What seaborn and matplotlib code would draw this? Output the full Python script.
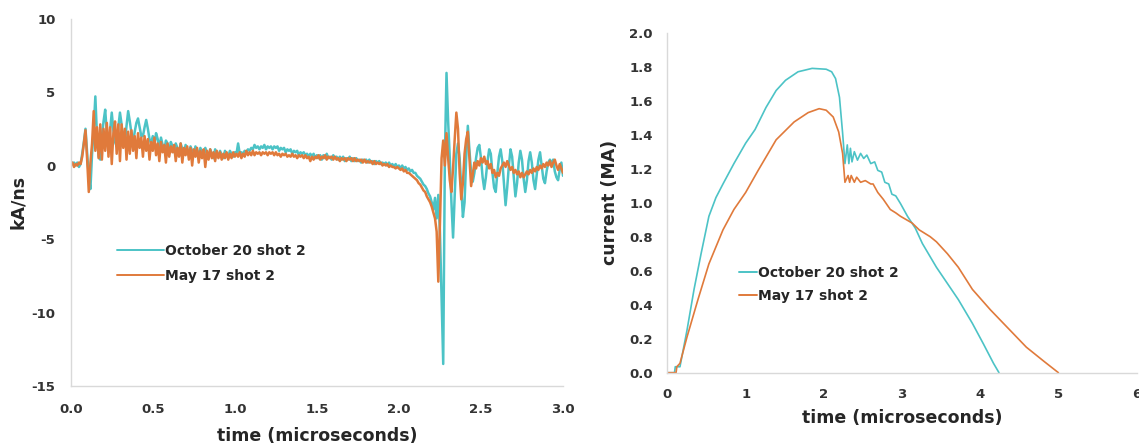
import numpy as np
import pandas as pd
import seaborn as sns
import matplotlib.pyplot as plt

# colours of the two shots
teal = "#4cc3c6"
orange = "#e07a3b"
labels = ["October 20 shot 2", "May 17 shot 2"]

# dI/dt traces (kA/ns), sampled every 0.01 us from 0 to 3.0 us
dt = 0.01
oct_didt = [
    0.3, 0.1, 0.2, 0.0, 0.2, -0.1, 0.1, 0.8, 1.6, 2.5,
    0.9, -0.8, -1.6, 0.8, 2.5, 4.7, 2.0, 0.6, 0.4, 2.0,
    3.0, 3.8, 2.2, 1.1, 2.4, 3.6, 2.4, 1.6, 1.3, 2.6,
    3.6, 2.8, 1.6, 1.5, 2.7, 3.7, 3.0, 2.2, 1.6, 2.3,
    2.9, 3.2, 2.6, 2.0, 2.0, 2.6, 3.1, 2.5, 1.8, 1.5,
    2.0, 1.4, 2.2, 1.8, 1.2, 1.9, 1.4, 1.0, 1.7, 1.5,
    0.9, 1.6, 1.3, 0.9, 1.5, 1.2, 0.8, 1.5, 1.1, 0.8,
    1.4, 1.1, 0.7, 1.3, 1.0, 0.7, 1.3, 1.0, 0.7, 1.2,
    0.9, 0.6, 1.2, 0.9, 0.6, 1.1, 0.8, 0.5, 1.1, 0.8,
    0.6, 1.0, 0.7, 0.5, 1.0, 0.8, 0.6, 1.0, 0.8, 0.6,
    0.9, 0.8, 1.5, 0.8, 0.9, 0.8, 1.0, 0.9, 1.1, 1.0,
    1.2, 1.1, 1.4, 1.2, 1.3, 1.1, 1.3, 1.2, 1.4, 1.1,
    1.3, 1.2, 1.3, 1.1, 1.3, 1.2, 1.3, 1.0, 1.2, 1.1,
    1.2, 0.9, 1.1, 1.0, 1.1, 0.8, 1.0, 0.9, 1.0, 0.7,
    0.9, 0.8, 0.9, 0.7, 0.8, 0.6, 0.8, 0.6, 0.8, 0.5,
    0.7, 0.5, 0.7, 0.4, 0.7, 0.5, 0.8, 0.5, 0.6, 0.4,
    0.7, 0.5, 0.6, 0.4, 0.6, 0.4, 0.6, 0.3, 0.5, 0.4,
    0.6, 0.3, 0.5, 0.3, 0.5, 0.3, 0.4, 0.2, 0.4, 0.3,
    0.4, 0.2, 0.4, 0.2, 0.3, 0.1, 0.3, 0.2, 0.3, 0.1,
    0.2, 0.1, 0.2, 0.0, 0.2, 0.0, 0.1, -0.1, 0.1, -0.1,
    0.0, -0.2, 0.0, -0.2, -0.1, -0.3, -0.2, -0.4, -0.3, -0.5,
    -0.5, -0.7, -0.8, -0.9, -1.1, -1.3, -1.4, -1.6, -1.9, -2.1,
    -2.5, -3.0, -2.2, -3.6, -2.0, -4.5, -9.0, -13.5, 0.5, 6.3,
    3.0, 0.5, -2.5, -4.9, -2.0, 0.8, 1.5, 0.5, -1.5, -3.5,
    -2.5, 0.5, 2.7, 1.0, -0.5, -1.1, -0.5, 0.5, 1.2, 1.4,
    0.5, -0.8, -1.6, -0.8, 0.3, 1.1, 0.8, -0.5, -1.5, -1.8,
    -0.5, 0.6, 1.1, 0.3, -1.2, -2.7, -1.5, 0.0, 1.1, 0.6,
    -0.8, -2.1, -1.2, 0.2, 1.0, 0.4, -0.9, -1.8, -1.0, 0.3,
    0.9, 0.2, -1.0, -1.6, -0.6, 0.4, 0.9, 0.0, -0.9, -1.2,
    -0.4, 0.2, 0.4, 0.1, 0.4, -0.4, -0.8, -1.0, -0.3, 0.2,
    -0.7,
]
may_didt = [
    0.1, 0.2, -0.1, 0.1, 0.0, 0.2, 0.1, 0.6, 1.5, 2.4,
    0.4, -1.8, 0.2, 1.5, 3.7, 1.0, 2.6, 0.5, 2.8, 0.4,
    2.5, 1.0, 2.9, 0.6, 2.6, 0.1, 2.2, 3.0, 0.8, 2.8,
    0.3, 2.8, 1.2, 2.5, 0.4, 2.3, 0.8, 2.4, 1.0, 2.0,
    0.5, 2.2, 1.2, 1.9, 0.6, 2.0, 1.0, 1.8, 0.4, 1.6,
    1.0, 1.9, 0.7, 1.5, 0.3, 1.6, 0.9, 1.4, 0.2, 1.5,
    0.6, 1.3, 0.9, 1.4, 0.3, 1.2, 0.6, 1.5, 0.2, 1.2,
    0.7, 1.3, 0.4, 1.2, 0.0, 1.1, 0.6, 1.2, 0.2, 1.0,
    0.5, 1.1, -0.1, 1.0, 0.4, 1.1, 0.5, 0.9, 0.3, 1.0,
    0.5, 0.9, 0.4, 0.8, 0.5, 0.9, 0.4, 0.8, 0.5, 0.9,
    0.6, 0.8, 0.6, 0.9, 0.5, 0.8, 0.6, 1.0, 0.7, 0.9,
    0.7, 1.0, 0.7, 0.9, 0.8, 0.9, 0.7, 0.9, 0.8, 0.9,
    0.7, 0.9, 0.8, 0.9, 0.7, 0.9, 0.7, 0.8, 0.6, 0.8,
    0.7, 0.8, 0.6, 0.7, 0.6, 0.8, 0.6, 0.7, 0.5, 0.7,
    0.6, 0.7, 0.5, 0.7, 0.5, 0.6, 0.3, 0.6, 0.4, 0.6,
    0.5, 0.7, 0.4, 0.6, 0.5, 0.7, 0.4, 0.6, 0.5, 0.6,
    0.4, 0.6, 0.4, 0.5, 0.3, 0.5, 0.4, 0.5, 0.3, 0.5,
    0.4, 0.5, 0.3, 0.5, 0.3, 0.4, 0.3, 0.4, 0.2, 0.4,
    0.2, 0.3, 0.2, 0.3, 0.1, 0.3, 0.1, 0.2, 0.1, 0.2,
    0.0, 0.1, 0.0, 0.1, -0.1, 0.0, -0.1, -0.1, -0.2, -0.1,
    -0.2, -0.3, -0.2, -0.4, -0.3, -0.5, -0.5, -0.6, -0.7, -0.8,
    -0.9, -1.0, -1.2, -1.3, -1.5, -1.7, -1.8, -2.1, -2.3, -2.5,
    -2.8, -3.2, -3.6, -4.5, -7.9, -4.0, 0.5, 1.7, 0.0, 2.2,
    0.5, -1.0, -1.8, -0.2, 1.8, 3.6, 2.5, -0.5, -2.3, -1.2,
    0.8, 1.8, 2.3, 0.5, -1.4, -0.6, 0.2, -0.2, 0.3, 0.0,
    0.5, 0.2, 0.6, 0.1, 0.3, -0.2, 0.1, -0.5, -0.3, -0.8,
    -0.5, -0.7, -0.2, 0.0, 0.2, -0.1, 0.3, 0.0, -0.3, -0.1,
    -0.5, -0.3, -0.6, -0.4, -0.8, -0.5, -0.8, -0.6, -0.4, -0.6,
    -0.3, -0.5, -0.2, -0.4, -0.1, -0.3, 0.0, -0.2, 0.1, -0.1,
    0.2, 0.0, 0.3, -0.1, 0.2, 0.4, 0.0, -0.3, 0.1, -0.2,
    -0.5,
]

# integrated current (MA)
oct_t = [0.0, 0.09, 0.1, 0.16, 0.25, 0.34, 0.43, 0.53, 0.62, 0.71, 0.85, 1.0,
         1.12, 1.26, 1.39, 1.51, 1.67, 1.85, 2.03, 2.1, 2.15, 2.2, 2.24, 2.27,
         2.3, 2.32, 2.34, 2.36, 2.39, 2.43, 2.47, 2.51, 2.55, 2.6, 2.65, 2.69,
         2.74, 2.78, 2.83, 2.87, 2.92, 2.98, 3.07, 3.17, 3.26, 3.44, 3.58, 3.72,
         3.9, 4.04, 4.17, 4.24]
oct_cur = [0.0, 0.0, 0.035, 0.035, 0.25, 0.49, 0.70, 0.92, 1.03, 1.11, 1.23, 1.35,
           1.43, 1.56, 1.66, 1.72, 1.77, 1.79, 1.785, 1.77, 1.73, 1.62, 1.41, 1.23,
           1.34, 1.23, 1.32, 1.24, 1.30, 1.25, 1.29, 1.26, 1.28, 1.23, 1.24, 1.19,
           1.18, 1.12, 1.11, 1.05, 1.04, 0.995, 0.92, 0.85, 0.76, 0.62, 0.525, 0.43,
           0.29, 0.17, 0.055, 0.0]
may_t = [0.0, 0.11, 0.12, 0.16, 0.25, 0.39, 0.53, 0.71, 0.85, 1.0, 1.16, 1.39,
         1.62, 1.8, 1.94, 2.03, 2.12, 2.19, 2.24, 2.27, 2.31, 2.33, 2.35, 2.39,
         2.42, 2.47, 2.53, 2.6, 2.63, 2.69, 2.76, 2.85, 2.92, 2.98, 3.13, 3.22,
         3.36, 3.44, 3.58, 3.72, 3.9, 4.13, 4.36, 4.59, 4.82, 5.0]
may_cur = [0.0, 0.0, 0.035, 0.055, 0.21, 0.43, 0.64, 0.84, 0.96, 1.06, 1.19, 1.37,
           1.475, 1.53, 1.553, 1.544, 1.504, 1.416, 1.29, 1.12, 1.16, 1.12, 1.16, 1.12,
           1.15, 1.12, 1.13, 1.11, 1.11, 1.06, 1.02, 0.96, 0.94, 0.92, 0.88, 0.84,
           0.80, 0.77, 0.70, 0.62, 0.49, 0.37, 0.26, 0.15, 0.065, 0.0]

left_xticks = [0.0, 0.5, 1.0, 1.5, 2.0, 2.5, 3.0]
left_yticks = [-15, -10, -5, 0, 5, 10]
right_xticks = [0, 1, 2, 3, 4, 5, 6]
right_yticks = [0.0, 0.2, 0.4, 0.6, 0.8, 1.0, 1.2, 1.4, 1.6, 1.8, 2.0]

sns.set_style("white")
plt.rcParams["font.family"] = ["DejaVu Sans"]

didt = pd.DataFrame({
    "time": np.concatenate([np.arange(len(oct_didt)) * dt, np.arange(len(may_didt)) * dt]),
    "value": oct_didt + may_didt,
    "shot": [labels[0]] * len(oct_didt) + [labels[1]] * len(may_didt),
})
cur = pd.DataFrame({
    "time": oct_t + may_t,
    "value": oct_cur + may_cur,
    "shot": [labels[0]] * len(oct_t) + [labels[1]] * len(may_t),
})

fig = plt.figure(figsize=(11.39, 4.44), dpi=100)
ax1 = fig.add_axes([0.0621, 0.1306, 0.4322, 0.8277])
ax2 = fig.add_axes([0.586, 0.1606, 0.4119, 0.7658])

pal = {labels[0]: teal, labels[1]: orange}
sns.lineplot(data=didt, x="time", y="value", hue="shot", palette=pal, ax=ax1,
             linewidth=1.8, estimator=None, sort=False)
sns.lineplot(data=cur, x="time", y="value", hue="shot", palette=pal, ax=ax2,
             linewidth=1.2, estimator=None, sort=False)

tick_col = "#333333"
for ax in (ax1, ax2):
    for s in ("top", "right"):
        ax.spines[s].set_visible(False)
    for s in ("left", "bottom"):
        ax.spines[s].set_color("#d9d9d9")
        ax.spines[s].set_linewidth(1.0)

ax1.set_xlim(0, 3)
ax1.set_ylim(-15, 10)
ax1.set_xticks(left_xticks)
ax1.set_xticklabels([f"{v:.1f}" for v in left_xticks])
ax1.set_yticks(left_yticks)
ax1.set_yticklabels([str(v) for v in left_yticks])
ax1.tick_params(axis="x", length=5, width=1, color="#d9d9d9", pad=7,
                labelsize=9.5, labelcolor=tick_col)
ax1.tick_params(axis="y", length=0, pad=11, labelsize=9.5, labelcolor=tick_col)

ax2.set_xlim(0, 6)
ax2.set_ylim(0, 2.0)
ax2.set_xticks(right_xticks)
ax2.set_xticklabels([str(v) for v in right_xticks])
ax2.set_yticks(right_yticks)
ax2.set_yticklabels([f"{v:.1f}" for v in right_yticks])
ax2.tick_params(axis="x", length=0, pad=11, labelsize=9.5, labelcolor=tick_col)
ax2.tick_params(axis="y", length=0, pad=10.5, labelsize=9.5, labelcolor=tick_col)

for ax in (ax1, ax2):
    for lab in ax.get_xticklabels() + ax.get_yticklabels():
        lab.set_fontweight("bold")

ax1.set_xlabel("time (microseconds)", fontsize=12.5, fontweight="bold")
ax1.set_ylabel("kA/ns", fontsize=12.5, fontweight="bold")
ax2.set_xlabel("time (microseconds)", fontsize=12.5, fontweight="bold")
ax2.set_ylabel("current (MA)", fontsize=12.5, fontweight="bold")
for ax in (ax1, ax2):
    ax.xaxis.label.set_va("center")
    ax.yaxis.label.set_va("center")
ax1.xaxis.set_label_coords(0.5, -0.136)
ax1.yaxis.set_label_coords(-0.108, 0.5)
ax2.xaxis.set_label_coords(0.501, -0.133)
ax2.yaxis.set_label_coords(-0.1225, 0.5)

leg1 = ax1.legend(frameon=False, loc="center left", bbox_to_anchor=(0.094, 0.333),
                  borderaxespad=0, borderpad=0, handlelength=3.4, handletextpad=0.05,
                  labelspacing=0.8, prop={"size": 10, "weight": "bold"})
leg2 = ax2.legend(frameon=False, loc="center left", bbox_to_anchor=(0.152, 0.259),
                  borderaxespad=0, borderpad=0, handlelength=1.3, handletextpad=0.05,
                  labelspacing=0.65, prop={"size": 10, "weight": "bold"})
for leg in (leg1, leg2):
    for h in leg.get_lines():
        h.set_linewidth(1.4)

fig.savefig("out.png", dpi=100)
